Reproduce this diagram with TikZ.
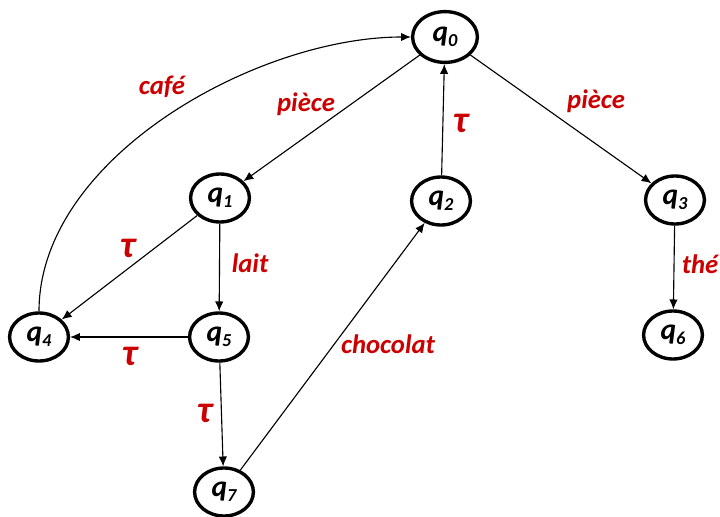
\documentclass[tikz,border=0pt]{standalone}
\usepackage{fontspec}
\setmainfont{Carlito}
\usetikzlibrary{arrows,arrows.meta,shapes.geometric,positioning}
\definecolor{labelred}{RGB}{204,0,0}
\newcommand{\st}[1]{q\raisebox{-0.35ex}{\fontsize{13}{13}\selectfont #1}}

\begin{document}
\begin{tikzpicture}[line width=0.8pt,>={Latex[length=7pt,width=6pt]},
    state/.style={ellipse,draw,line width=2.4pt,minimum width=1.47cm,minimum height=1.2cm,inner sep=0pt,
      font=\fontsize{21}{21}\selectfont\bfseries\itshape},
    lab/.style={text=labelred,font=\fontsize{19}{19}\selectfont\bfseries\itshape},
    taulab/.style={lab,font=\fontsize{27}{27}\selectfont\bfseries\itshape}]
      \useasboundingbox (0,0) rectangle (18,-12.925);
      \node[state,minimum width=1.62cm,minimum height=1.27cm] (q0) at (11.125,-0.925) {\st{0}};
      \node[state] (q1) at (5.5,-4.95) {\st{1}};
      \node[state] (q2) at (11.025,-5.025) {\st{2}};
      \node[state] (q3) at (16.875,-5.0) {\st{3}};
      \node[state] (q4) at (0.975,-8.425) {\st{4}};
      \node[state] (q5) at (5.475,-8.425) {\st{5}};
      \node[state] (q6) at (16.825,-8.375) {\st{6}};
      \node[state] (q7) at (5.6,-12.3) {\st{7}};

      \draw[->] (q0) -- (q1);
      \draw[->] (q0) -- (q3);
      \draw[->] (q2) -- (q0);
      \draw[->] (q1) -- (q4);
      \draw[->] (q1) -- (q5);
      \draw[->] (q5) -- (q4);
      \draw[->] (q5) -- (q7);
      \draw[->] (q7) -- (q2);
      \draw[->] (q3) -- (q6);
      \draw[->] (q4) to[out=90,in=180,looseness=0.85] (q0);

      \node[lab] (cafe) at (4.05,-2.175) {café};
      \node[lab] (piece1) at (7.65,-2.6) {pièce};
      \node[lab] (piece2) at (14.9,-2.525) {pièce};
      \node[taulab] (tau20) at (11.525,-3.075) {τ};
      \node[taulab] (tau14) at (3.2,-6.2) {τ};
      \node[lab] (lait) at (6.25,-6.575) {lait};
      \node[taulab] (tau54) at (3.25,-8.9) {τ};
      \node[taulab] (tau57) at (5.125,-10.33) {τ};
      \node[lab] (choc) at (9.7,-8.6) {chocolat};
      \node[lab] (the) at (17.5,-6.6) {thé};
    \end{tikzpicture}
\end{document}
